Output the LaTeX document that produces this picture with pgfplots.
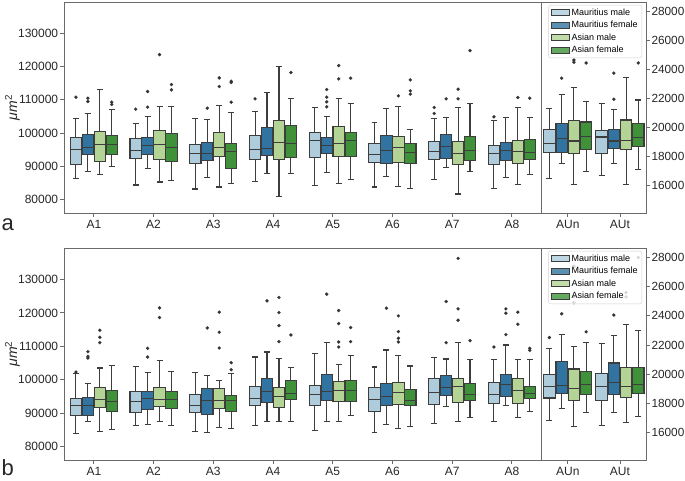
\documentclass[border=0pt]{standalone}
\usepackage{pgfplots}
\pgfplotsset{compat=1.18}
\usepgfplotslibrary{statistics}
\usepackage{fontspec}
\setmainfont{Liberation Sans}

\definecolor{lb}{HTML}{AECCDC}
\definecolor{mf}{HTML}{3274A1}
\definecolor{am}{HTML}{B3D495}
\definecolor{af}{HTML}{40923A}
\definecolor{edgec}{HTML}{3D3D3D}
\definecolor{dotc}{HTML}{333333}
\definecolor{framec}{HTML}{6A6A6A}
\definecolor{textc}{HTML}{262626}

% values are in thousands of um^2; tick labels show full values
\pgfplotsset{
  bx/.style={forget plot, solid, draw=edgec, line width=1.1pt, mark=*, mark size=1.65pt,
    mark options={draw=dotc, fill=dotc, line width=0.1pt}},
  base/.style={scale only axis, clip=false, boxplot/draw direction=y,
    axis line style={framec, line width=0.8pt},
    tick style={framec, line width=0.8pt}, major tick length=3.5pt, tick align=outside,
    xtick pos=bottom,
    tick label style={font=\fontsize{12}{14}\selectfont, text=textc}},
  leftax/.style={base, width=477.7pt, xmin=-0.5, xmax=7.5, ymin=76, ymax=139.4,
    xtick={0,...,7}, xticklabels={A1,A2,A3,A4,A5,A6,A7,A8},
    ytick={80,90,...,130}, yticklabels={80000,90000,100000,110000,120000,130000},
    ytick pos=left,
    yticklabel style={xshift=1.2pt},
    boxplot/box extend=0.19, boxplot/whisker extend=0.1,
    ylabel={\textit{μm}\textsuperscript{2}},
    every axis y label/.style={at={(rel axis cs:0,0.5)}, xshift=-51.5pt, rotate=90, anchor=center,
      font=\fontsize{14}{16}\selectfont, text=textc}},
  rightax/.style={base, width=104.3pt, xmin=-0.5, xmax=1.5, ymin=14.11, ymax=28.65,
    xtick={0,1}, xticklabels={AUn,AUt},
    ytick={16,18,...,28}, yticklabels={16000,18000,20000,22000,24000,26000,28000},
    ytick pos=right, yticklabel pos=right,
    yticklabel style={font=\fontsize{11.8}{14}\selectfont, xshift=-1.5pt},
    boxplot/box extend=0.217, boxplot/whisker extend=0.115,
    legend image code/.code={\draw[#1, sharp corners, draw=edgec, line width=0.8pt] (0pt,-3pt) rectangle (18pt,3pt);},
    legend cell align=left,
    legend style={at={(0.962,0.986)}, anchor=north east, font=\fontsize{9}{10}\selectfont,
      draw=black!18, rounded corners=2pt, fill=white, fill opacity=0.8, text opacity=1,
      nodes={inner sep=1.7pt}, row sep=1pt, inner xsep=2.5pt, inner ysep=2pt}},
}

\newcommand{\bx}[8]{\addplot[bx,fill=#2,boxplot prepared={draw position=#1,lower whisker=#3,lower quartile=#4,median=#5,upper quartile=#6,upper whisker=#7}] coordinates {#8};}

\newcommand{\legs}{%
  \addlegendimage{fill=lb}\addlegendentry{Mauritius male}
  \addlegendimage{fill=mf}\addlegendentry{Mauritius female}
  \addlegendimage{fill=am}\addlegendentry{Asian male}
  \addlegendimage{fill=af}\addlegendentry{Asian female}}

\begin{document}
\begin{tikzpicture}
\useasboundingbox (0pt,0pt) rectangle (685pt,480pt);

% ================= Panel a, left =================
\begin{axis}[leftax, height=211pt, at={(64pt,267pt)}, anchor=south west]
% A1
\bx{-0.3}{lb}{86.3}{90.7}{95.0}{98.7}{104.3}{(0,110.8)}
\bx{-0.1}{mf}{88.4}{93.5}{95.6}{99.5}{105.8}{(0,110.5) (0,109.5)}
\bx{0.1}{am}{87.6}{91.5}{96.7}{100.5}{113.0}{}
\bx{0.3}{af}{90.0}{93.5}{96.5}{99.3}{107.0}{(0,109.3) (0,108.6)}
% A2
\bx{0.7}{lb}{84.4}{92.4}{94.8}{98.5}{103.0}{(0,107.2)}
\bx{0.9}{mf}{89.5}{93.7}{96.3}{98.8}{105.0}{(0,112.5) (0,107.8)}
\bx{1.1}{am}{85.3}{92.2}{96.7}{100.8}{108.0}{(0,123.6)}
\bx{1.3}{af}{85.7}{91.4}{95.8}{100.0}{108.0}{(0,114.6) (0,113.0)}
% A3
\bx{1.7}{lb}{83.2}{90.9}{93.8}{96.7}{104.5}{}
\bx{1.9}{mf}{86.7}{91.8}{93.9}{97.3}{104.2}{(0,107.5)}
\bx{2.1}{am}{83.8}{93.0}{95.7}{100.1}{108.3}{(0,116.6) (0,114.0)}
\bx{2.3}{af}{84.8}{89.5}{94.5}{96.9}{106.3}{(0,115.6) (0,115.2) (0,109.3)}
% A4
\bx{2.7}{lb}{85.5}{92.0}{95.2}{99.2}{106.4}{(0,110.3)}
\bx{2.9}{mf}{88.0}{93.2}{95.5}{101.7}{112.2}{}
\bx{3.1}{am}{81.0}{92.1}{97.3}{103.9}{120.0}{}
\bx{3.3}{af}{87.9}{92.8}{96.8}{102.3}{110.3}{(0,118.2)}
% A5
\bx{3.7}{lb}{84.2}{92.8}{97.9}{100.2}{107.6}{}
\bx{3.9}{mf}{88.3}{94.0}{96.4}{98.6}{105.1}{(0,113.1) (0,110.8) (0,109.4) (0,107.9)}
\bx{4.1}{am}{84.9}{92.9}{96.9}{102.1}{110.3}{(0,120.3) (0,116.3)}
\bx{4.3}{af}{86.2}{93.0}{97.9}{100.1}{108.8}{(0,116.5)}
% A6
\bx{4.7}{lb}{83.8}{91.3}{93.5}{96.9}{103.3}{}
\bx{4.9}{mf}{87.0}{91.0}{94.8}{99.3}{107.4}{}
\bx{5.1}{am}{84.0}{91.1}{95.6}{98.9}{107.9}{(0,111.2)}
\bx{5.3}{af}{83.4}{91.0}{94.1}{96.8}{101.1}{(0,116.0) (0,112.7) (0,111.7)}
% A7
\bx{5.7}{lb}{86.0}{92.1}{94.6}{97.6}{104.3}{(0,107.7) (0,105.9)}
\bx{5.9}{mf}{89.8}{92.5}{96.1}{99.5}{104.8}{(0,110.3)}
\bx{6.1}{am}{81.7}{90.6}{94.0}{97.6}{107.7}{(0,113.2) (0,110.3)}
\bx{6.3}{af}{88.5}{91.8}{94.8}{99.0}{108.8}{(0,124.8)}
% A8
\bx{6.7}{lb}{83.3}{90.7}{93.8}{96.3}{103.9}{(0,104.9)}
\bx{6.9}{mf}{86.8}{91.9}{94.9}{97.2}{104.8}{}
\bx{7.1}{am}{84.6}{90.9}{94.5}{97.7}{107.7}{(0,110.7)}
\bx{7.3}{af}{87.7}{92.2}{94.2}{98.1}{104.6}{(0,110.5)}
\end{axis}

% ================= Panel a, right =================
\begin{axis}[rightax, height=211pt, at={(541.7pt,267pt)}, anchor=south west]
\legs
\bx{-0.3525}{lb}{16.50}{18.30}{18.92}{19.87}{21.30}{}
\bx{-0.1175}{mf}{17.52}{18.30}{19.23}{20.30}{22.25}{(0,23.40)}
\bx{0.1175}{am}{16.05}{18.22}{19.07}{20.50}{22.75}{(0,24.65) (0,24.50)}
\bx{0.3525}{af}{16.97}{18.49}{19.40}{20.38}{21.80}{(0,24.45)}
\bx{0.6475}{lb}{16.70}{18.20}{19.35}{19.78}{21.65}{}
\bx{0.8825}{mf}{17.50}{18.56}{19.07}{19.88}{21.25}{(0,23.75) (0,21.95)}
\bx{1.1175}{am}{16.07}{18.47}{19.12}{20.52}{23.45}{}
\bx{1.3525}{af}{17.11}{18.70}{19.30}{20.25}{21.90}{(0,24.45)}
\end{axis}

% ================= Panel b, left =================
\begin{axis}[leftax, height=212pt, at={(64pt,20pt)}, anchor=south west]
% A1
\bx{-0.3}{lb}{84.0}{89.4}{92.4}{94.4}{101.8}{(0,102.3)}
\bx{-0.1}{mf}{87.4}{89.3}{92.3}{94.7}{99.0}{(0,108.4) (0,107.0) (0,106.5)}
\bx{0.1}{am}{84.5}{91.6}{94.1}{97.8}{103.5}{(0,114.8) (0,112.7) (0,111.1)}
\bx{0.3}{af}{85.1}{90.4}{93.5}{96.8}{104.2}{}
% A2
\bx{0.7}{lb}{86.4}{90.3}{93.5}{96.5}{103.9}{}
\bx{0.9}{mf}{86.7}{91.0}{94.5}{96.5}{102.1}{(0,109.4) (0,106.8)}
\bx{1.1}{am}{87.5}{91.9}{94.2}{97.8}{105.7}{(0,121.5) (0,118.6)}
\bx{1.3}{af}{86.4}{91.5}{94.0}{96.5}{102.4}{}
% A3
\bx{1.7}{lb}{84.5}{90.2}{92.2}{95.5}{102.2}{}
\bx{1.9}{mf}{84.2}{89.5}{93.9}{97.3}{101.4}{(0,115.5)}
\bx{2.1}{am}{85.6}{91.4}{93.8}{97.4}{99.7}{(0,120.2) (0,114.2) (0,109.5)}
\bx{2.3}{af}{85.4}{90.6}{93.8}{95.4}{101.8}{(0,105.1) (0,103.0)}
% A4
\bx{2.7}{lb}{86.3}{92.3}{94.4}{98.1}{106.8}{}
\bx{2.9}{mf}{87.6}{93.2}{96.5}{100.4}{108.3}{(0,123.6)}
\bx{3.1}{am}{87.5}{91.8}{95.0}{97.8}{106.4}{(0,124.6) (0,120.1) (0,116.2) (0,111.4)}
\bx{3.3}{af}{87.6}{94.1}{95.8}{99.7}{103.7}{(0,113.4)}
% A5
\bx{3.7}{lb}{84.8}{92.3}{95.5}{98.3}{107.8}{}
\bx{3.9}{mf}{87.5}{93.9}{96.4}{101.5}{111.1}{(0,125.6)}
\bx{4.1}{am}{87.5}{93.4}{96.8}{99.4}{104.6}{(0,120.7) (0,116.8) (0,111.3) (0,109.8)}
\bx{4.3}{af}{89.2}{93.6}{96.7}{99.7}{107.2}{(0,115.6) (0,111.4)}
% A6
\bx{4.7}{lb}{84.1}{90.5}{94.1}{97.6}{103.8}{}
\bx{4.9}{mf}{86.5}{92.4}{95.1}{98.9}{108.9}{(0,121.4)}
\bx{5.1}{am}{85.3}{92.6}{96.1}{99.3}{107.3}{(0,119.1) (0,114.4) (0,112.4) (0,111.3)}
\bx{5.3}{af}{86.1}{92.2}{93.7}{97.2}{104.1}{}
% A7
\bx{5.7}{lb}{86.8}{92.7}{96.1}{100.3}{106.6}{}
\bx{5.9}{mf}{91.9}{95.4}{97.7}{101.3}{106.2}{(0,123.4) (0,111.1)}
\bx{6.1}{am}{87.5}{93.2}{97.9}{100.5}{111.1}{(0,136.3) (0,121.2) (0,117.8)}
\bx{6.3}{af}{88.6}{93.8}{95.5}{98.8}{106.1}{(0,111.7)}
% A8
\bx{6.7}{lb}{87.5}{93.0}{95.6}{99.3}{106.1}{(0,109.8)}
\bx{6.9}{mf}{92.3}{94.9}{98.5}{101.6}{110.4}{(0,121.2) (0,119.9) (0,113.5)}
\bx{7.1}{am}{88.8}{93.0}{96.7}{100.3}{106.1}{(0,120.2) (0,116.6)}
\bx{7.3}{af}{90.6}{94.5}{96.0}{97.9}{106.1}{(0,109.4) (0,108.8)}
\end{axis}

% ================= Panel b, right =================
\begin{axis}[rightax, height=212pt, at={(541.7pt,20pt)}, anchor=south west]
\legs
\bx{-0.3525}{lb}{16.79}{18.36}{19.15}{19.97}{21.74}{(0,22.51)}
\bx{-0.1175}{mf}{17.63}{18.70}{19.22}{20.85}{22.69}{(0,24.14)}
\bx{0.1175}{am}{16.39}{18.22}{19.04}{20.35}{21.90}{(0,27.40) (0,25.30) (0,24.90)}
\bx{0.3525}{af}{17.38}{18.63}{19.31}{20.15}{22.17}{(0,22.90)}
\bx{0.6475}{lb}{16.48}{18.18}{19.18}{20.04}{22.10}{}
\bx{0.8825}{mf}{17.34}{18.63}{19.45}{20.76}{22.67}{(0,24.05)}
\bx{1.1175}{am}{16.68}{18.38}{19.18}{20.45}{23.39}{(0,25.60) (0,25.30)}
\bx{1.3525}{af}{17.11}{18.65}{19.27}{20.47}{22.99}{(0,28.00)}
\end{axis}

\node[font=\fontsize{22}{22}\selectfont, text=textc, anchor=base east] at (17.5pt,250pt) {a};
\node[font=\fontsize{22}{22}\selectfont, text=textc, anchor=base east] at (17.5pt,5pt) {b};
\end{tikzpicture}
\end{document}
